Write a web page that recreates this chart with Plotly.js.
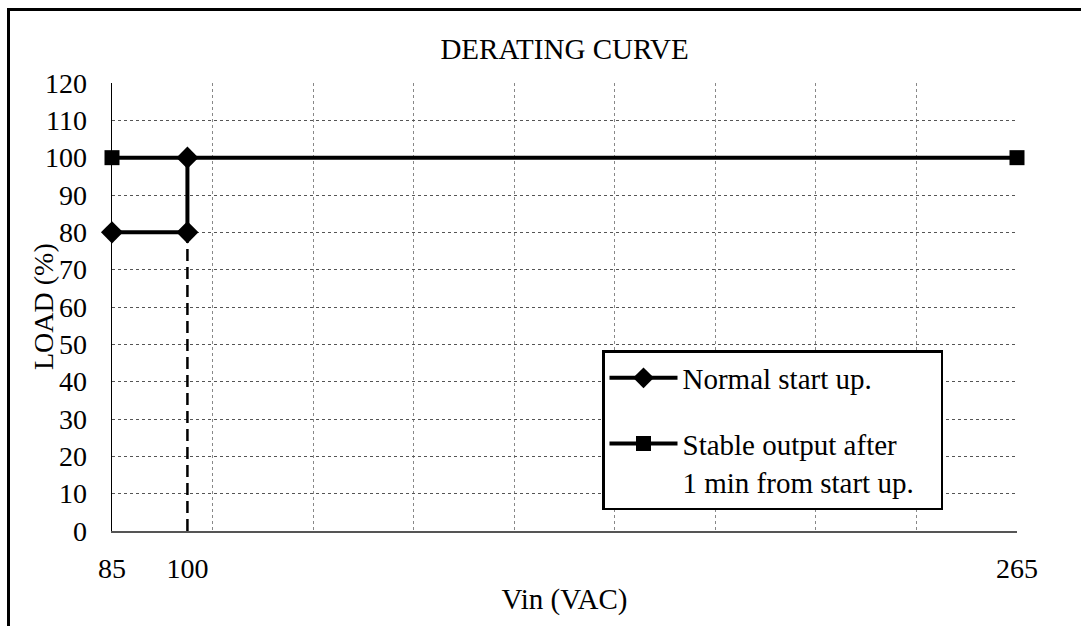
<!DOCTYPE html>
<html>
<head>
<meta charset="utf-8">
<script src="https://cdn.plot.ly/plotly-3.0.1.min.js"></script>
<style>
  html, body { margin: 0; padding: 0; background: #fff; }
  #chart { width: 1081px; height: 626px; position: absolute; left: 0; top: 0; }
  #frame { position: absolute; left: 7px; top: 8px; width: 2000px; height: 2000px;
           border-left: 3px solid #000; border-top: 3px solid #000; pointer-events: none; }
</style>
</head>
<body>
<div id="chart"></div>
<div id="frame"></div>
<script>
// Data
const normalVin = [85, 100, 100];
const normalLoad = [80, 80, 100];
const stableVin = [85, 265];
const stableLoad = [100, 100];
const markerVin = [100, 100];
const markerLoad = [0, 80];
const xTickVals = [85, 100, 265];
const xTickText = ['85', '100', '265'];
const seriesNames = ['Normal start up.', 'Stable output after<br>1 min from start up.&nbsp;&nbsp;&nbsp;'];

const FONT = 'Liberation Serif';

const traces = [
  {
    x: markerVin, y: markerLoad, mode: 'lines', showlegend: false, hoverinfo: 'skip',
    line: { color: '#000', width: 2.5, dash: '12px,6px' }, cliponaxis: false
  },
  {
    x: normalVin, y: normalLoad, mode: 'lines+markers', name: seriesNames[0],
    legendgroup: 'a', cliponaxis: false,
    line: { color: '#000', width: 4 },
    marker: { symbol: 'diamond', size: 17, color: '#000' }
  },
  {
    x: stableVin, y: stableLoad, mode: 'lines+markers', name: seriesNames[1],
    legendgroup: 'b', cliponaxis: false,
    line: { color: '#000', width: 4 },
    marker: { symbol: 'square', size: 15, color: '#000' }
  },
  {
    x: xTickVals, y: [null, null, null], xaxis: 'x2', mode: 'markers', showlegend: false, hoverinfo: 'skip'
  }
];

const layout = {
  width: 1081, height: 626,
  margin: { l: 112, r: 64, t: 83, b: 95 },
  paper_bgcolor: '#fff', plot_bgcolor: '#fff',
  font: { family: FONT, size: 28, color: '#000' },
  title: { text: 'DERATING CURVE', font: { family: FONT, size: 29, color: '#000' },
           x: 0.5, xref: 'paper', xanchor: 'center', y: 1 - 49/626, yanchor: 'middle' },
  showlegend: true,
  legend: {
    x: (602 - 112) / 905, y: (531 - 350) / 448, xanchor: 'left', yanchor: 'top',
    bgcolor: '#fff', bordercolor: '#000', borderwidth: 2.5,
    font: { family: FONT, size: 29, color: '#000' },
    traceorder: 'grouped', tracegroupgap: 25, valign: 'top', itemwidth: 68
  },
  xaxis: {
    range: [85, 265], tick0: 85, dtick: 20, showticklabels: false, ticks: '',
    showgrid: true, gridcolor: '#888', griddash: 'dot', gridwidth: 1,
    showline: true, linecolor: '#555', linewidth: 2, zeroline: false,
    title: { text: 'Vin (VAC)', font: { family: FONT, size: 29 }, standoff: 57 },
    fixedrange: true
  },
  xaxis2: {
    overlaying: 'x', anchor: 'y', side: 'bottom', range: [85, 265],
    tickvals: xTickVals, ticktext: xTickText, ticks: '', showgrid: false, showline: false,
    zeroline: false, tickfont: { family: FONT, size: 28 }, ticklabelstandoff: 18,
    fixedrange: true
  },
  yaxis: {
    range: [0, 120], dtick: 10, tick0: 0, ticks: '',
    showgrid: true, gridcolor: '#555', griddash: 'dot', gridwidth: 1,
    showline: true, linecolor: '#000', linewidth: 1.5, zeroline: false,
    tickfont: { family: FONT, size: 28 }, ticklabelstandoff: 18,
    fixedrange: true
  },
  annotations: [
    { text: 'LOAD (%)', textangle: -90, xref: 'paper', yref: 'paper',
      x: (43 - 112) / 905, y: 0.5, xanchor: 'center', yanchor: 'middle', showarrow: false,
      font: { family: FONT, size: 28, color: '#000' } }
  ]
};

Plotly.newPlot('chart', traces, layout, { displayModeBar: false, staticPlot: true });
</script>
</body>
</html>
